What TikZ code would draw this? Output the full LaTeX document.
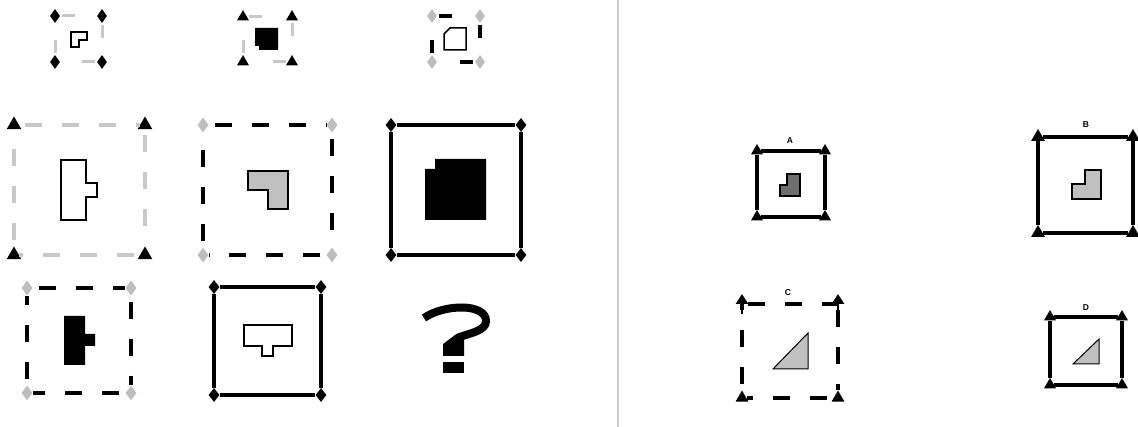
\documentclass[tikz,border=0pt]{standalone}
\usepackage{fontspec}
\setsansfont{Liberation Sans}
\usetikzlibrary{arrows.meta,shapes.geometric}
\definecolor{Edge}{HTML}{C8C8C8}
\definecolor{Mark}{HTML}{BEBEBE}
\definecolor{Fill}{HTML}{C0C0C0}
\definecolor{Dark}{HTML}{6E6E6E}
\definecolor{Rule}{HTML}{CDCDCD}
\tikzset{dmd/.style={diamond,fill=black,inner sep=0pt,minimum width=11pt,minimum height=15pt},gdmd/.style={dmd,fill=Mark},tri/.style={regular polygon,regular polygon sides=3,fill=black,inner sep=0pt,minimum size=16pt},sgdash/.style={draw=Edge,line width=3pt,dash pattern=on 13pt off 30pt,dash phase=41pt},sbdash/.style={sgdash,draw=black,line width=3.5pt},gdash/.style={draw=Edge,line width=3.5pt,dash pattern=on 17pt off 20pt,dash phase=31pt},bdash/.style={gdash,draw=black},frame/.style={draw=black,line width=4pt},piece/.style={draw=black,line width=1.5pt,line join=miter},lbl/.style={font=\sffamily\bfseries\fontsize{8.5}{9}\selectfont,inner sep=0pt},tipline/.style={-{Triangle[length=10pt,width=12pt]},line width=2.5pt}}
\begin{document}
\begin{tikzpicture}[x=1pt,y=-1pt]
\useasboundingbox (0,0) rectangle (1138,427);
% matrix, top row
\foreach \x/\y [count=\i] in {55/16,102/16,102/62,55/62} \node[dmd,minimum width=10pt,minimum height=14pt] (pa\i) at (\x,\y) {};
\draw[sgdash] (pa1)--(pa2) (pa2)--(pa3) (pa3)--(pa4) (pa4)--(pa1);
\draw[piece,fill=white] (71,32)--(87,32)--(87,40)--(79,40)--(79,47)--(71,47)--cycle;
\foreach \x/\y [count=\i] in {243/17,292/17,292/62,243/62} \node[tri,minimum size=14pt] (pb\i) at (\x,\y) {};
\draw[sgdash] (pb1)--(pb2) (pb2)--(pb3) (pb3)--(pb4) (pb4)--(pb1);
\fill (255,28)--(278,28)--(278,50)--(259,50)--(259,46)--(255,46)--cycle;
\foreach \x/\y [count=\i] in {432/16,480/16,480/62,432/62} \node[gdmd,minimum width=10pt,minimum height=14pt] (pc\i) at (\x,\y) {};
\draw[sbdash] (pc1)--(pc2) (pc2)--(pc3) (pc3)--(pc4) (pc4)--(pc1);
\draw[piece,fill=white] (450,28)--(466,28)--(466,50)--(444,50)--(444,34)--cycle;
% middle row
\foreach \x/\y [count=\i] in {14/125,145/125,145/255,14/255} \node[tri,minimum size=17pt] (pd\i) at (\x,\y) {};
\draw[gdash] (pd1)--(pd2) (pd2)--(pd3) (pd3)--(pd4) (pd4)--(pd1);
\draw[piece,fill=white] (61,160)--(86,160)--(86,183)--(97,183)--(97,197)--(86,197)--(86,220)--(61,220)--cycle;
\foreach \x/\y [count=\i] in {203/125,332/125,332/255,203/255} \node[gdmd] (pe\i) at (\x,\y) {};
\draw[bdash] (pe1)--(pe2) (pe2)--(pe3) (pe3)--(pe4) (pe4)--(pe1);
\draw[piece,fill=Fill] (248,171)--(288,171)--(288,209)--(268,209)--(268,190)--(248,190)--cycle;
\foreach \x/\y [count=\i] in {391/125,521/125,521/255,391/255} \node[dmd,minimum height=14pt] (pf\i) at (\x,\y) {};
\draw[frame] (pf1)--(pf2) (pf2)--(pf3) (pf3)--(pf4) (pf4)--(pf1);
\fill (435,159)--(486,159)--(486,220)--(425,220)--(425,169)--(435,169)--cycle;
% bottom row
\foreach \x/\y [count=\i] in {27/288,131/288,131/393,27/393} \node[gdmd] (pg\i) at (\x,\y) {};
\draw[bdash] (pg1)--(pg2) (pg2)--(pg3) (pg3)--(pg4) (pg4)--(pg1);
\fill (64,316)--(85,316)--(85,334)--(95,334)--(95,346)--(85,346)--(85,365)--(64,365)--cycle;
\foreach \x/\y [count=\i] in {214/287,321/287,321/395,214/395} \node[dmd,minimum height=14pt] (ph\i) at (\x,\y) {};
\draw[frame] (ph1)--(ph2) (ph2)--(ph3) (ph3)--(ph4) (ph4)--(ph1);
\draw[piece,fill=white] (244,325)--(292,325)--(292,346)--(273,346)--(273,356)--(262,356)--(262,346)--(244,346)--cycle;
% question mark
\draw[line width=8pt] (424,318) .. controls (444,304) and (486,303) .. (486,321) .. controls (486,331) and (470,333) .. (457,338);
\fill (443,344)--(455,335)--(464,335)--(464,356)--(443,356)--cycle;
\fill (443,362) rectangle (464,373);
% divider
\draw[Rule,line width=2pt] (618,0)--(618,427);
% answers
\foreach \x/\y [count=\i] in {757/151,825/151,825/217,757/217} \node[tri,minimum size=14pt] (qa\i) at (\x,\y) {};
\draw[frame] (qa1)--(qa2) (qa2)--(qa3) (qa3)--(qa4) (qa4)--(qa1);
\draw[piece,fill=Dark] (787,174)--(800,174)--(800,196)--(780,196)--(780,185)--(787,185)--cycle;
\node[lbl] (la) at (790,141) {A};
\foreach \x/\y [count=\i] in {1038/137,1133/137,1133/233,1038/233} \node[tri,minimum size=16pt] (qb\i) at (\x,\y) {};
\draw[frame,line width=4.5pt] (qb1)--(qb2) (qb2)--(qb3) (qb3)--(qb4) (qb4)--(qb1);
\draw[piece,fill=Fill] (1085,170)--(1101,170)--(1101,199)--(1072,199)--(1072,184)--(1085,184)--cycle;
\node[lbl] (lb) at (1086,125) {B};
\coordinate (qc1) at (742,304);
\coordinate (qc2) at (838,304);
\node[tri,minimum size=15pt] (qc3) at (838,398) {};
\node[tri,minimum size=15pt] (qc4) at (742,398) {};
\draw[bdash] (qc1)--(qc2) (qc2)--(qc3) (qc3)--(qc4) (qc4)--(qc1);
\coordinate (tc1) at (742,294);
\coordinate (tc2) at (838,294);
\draw[tipline] (742,314)--(tc1);
\draw[tipline] (838,314)--(tc2);
\draw[line width=1pt,fill=Fill] (773,369)--(808,369)--(808,333)--cycle;
\node[lbl] (lc) at (788,293) {C};
\foreach \x/\y [count=\i] in {1050/317,1122/317,1122/385,1050/385} \node[tri,minimum size=14pt] (qd\i) at (\x,\y) {};
\draw[frame] (qd1)--(qd2) (qd2)--(qd3) (qd3)--(qd4) (qd4)--(qd1);
\draw[line width=1pt,fill=Fill] (1073,364)--(1099,364)--(1099,339)--cycle;
\node[lbl] (ld) at (1086,308) {D};
\end{tikzpicture}
\end{document}
